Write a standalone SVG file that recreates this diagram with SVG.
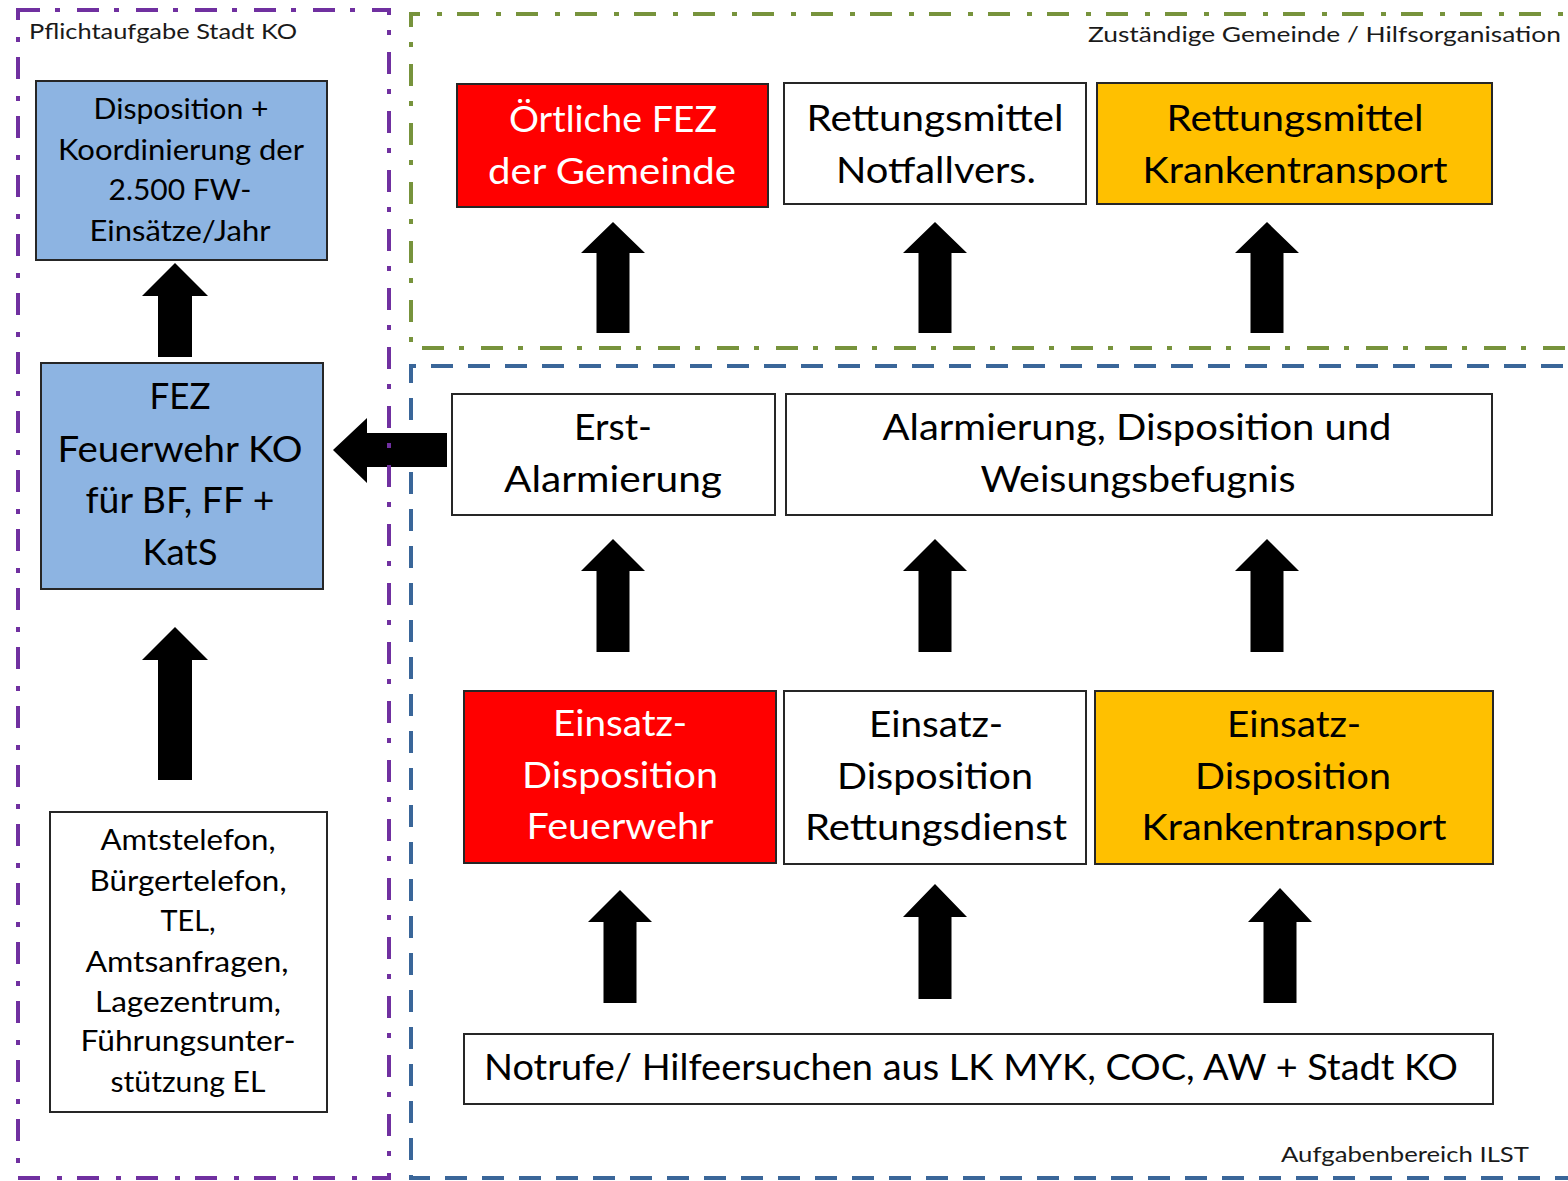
<svg xmlns="http://www.w3.org/2000/svg" width="1568" height="1181" viewBox="0 0 1568 1181">
<style>
.bg{fill:#ffffff}
.box{stroke:#262626;stroke-width:2}
.blue{fill:#8DB4E2}
.red{fill:#FF0000}
.orange{fill:#FFC000}
.white{fill:#FFFFFF}
text{font-family:Lato,"Open Sans","Liberation Sans",sans-serif;fill:#000;text-anchor:middle}
.s{font-size:21px;fill:#1a1a1a;text-anchor:start}
.m{font-size:28px}
.l{font-size:36px}
.w{fill:#FFFFFF}
.zone{fill:none;stroke-width:4}
.purple{stroke:#7030A0;stroke-dasharray:22 15 5 17}
.green{stroke:#77933C;stroke-dasharray:22 15 5 17}
.dblue{stroke:#3A6699;stroke-dasharray:22 15}
.arrow{fill:#000}
</style>
<rect class="bg" x="0" y="0" width="1568" height="1181"/>

<g id="zone-ilst">
<path class="zone dblue" d="M1600 366 H411 V1178 H1600"/>
<text class="s" x="1281" y="1162" textLength="248" lengthAdjust="spacingAndGlyphs">Aufgabenbereich ILST</text>
</g>
<g id="zone-gemeinde">
<path class="zone green" d="M1600 14 H411 V348 H1600"/>
<text class="s" x="1088" y="42" textLength="473" lengthAdjust="spacingAndGlyphs">Zuständige Gemeinde / Hilfsorganisation</text>
</g>

<g id="connectors">
<polygon class="arrow" points="613,222 645,253 629.5,253 629.5,333 596.5,333 596.5,253 581,253"/>
<polygon class="arrow" points="935,222 967,253 951.5,253 951.5,333 918.5,333 918.5,253 903,253"/>
<polygon class="arrow" points="1267,222 1299,253 1283.5,253 1283.5,333 1250.5,333 1250.5,253 1235,253"/>
<polygon class="arrow" points="613,539 645,571 629.5,571 629.5,652 596.5,652 596.5,571 581,571"/>
<polygon class="arrow" points="935,539 967,571 951.5,571 951.5,652 918.5,652 918.5,571 903,571"/>
<polygon class="arrow" points="1267,539 1299,571 1283.5,571 1283.5,652 1250.5,652 1250.5,571 1235,571"/>
<polygon class="arrow" points="620,890 652,922 636.5,922 636.5,1003 603.5,1003 603.5,922 588,922"/>
<polygon class="arrow" points="935,884 967,917 951.5,917 951.5,999 918.5,999 918.5,917 903,917"/>
<polygon class="arrow" points="1280,888 1312,922 1296.5,922 1296.5,1003 1263.5,1003 1263.5,922 1248,922"/>
<polygon class="arrow" points="175,263 208,296 192,296 192,357 158,357 158,296 142,296"/>
<polygon class="arrow" points="175,627 208,660 192,660 192,780 158,780 158,660 142,660"/>
<polygon class="arrow" points="333,450 367,418 367,433 447,433 447,467 367,467 367,483"/>
</g>

<g id="zone-stadt">
<rect class="zone purple" x="18" y="10" width="371" height="1168"/>
<text class="s" x="29" y="39" textLength="268" lengthAdjust="spacingAndGlyphs">Pflichtaufgabe Stadt KO</text>
</g>

<g id="node-disposition">
<rect class="box blue" x="36" y="81" width="291" height="179"/>
<text class="m" x="181" y="119" textLength="175" lengthAdjust="spacingAndGlyphs">Disposition +</text>
<text class="m" x="181" y="160" textLength="246" lengthAdjust="spacingAndGlyphs">Koordinierung der</text>
<text class="m" x="180" y="200" textLength="143" lengthAdjust="spacingAndGlyphs">2.500 FW-</text>
<text class="m" x="180" y="241" textLength="181" lengthAdjust="spacingAndGlyphs">Einsätze/Jahr</text>
</g>

<g id="node-fez">
<rect class="box blue" x="41" y="363" width="282" height="226"/>
<text class="l" x="180" y="409" textLength="61" lengthAdjust="spacingAndGlyphs">FEZ</text>
<text class="l" x="180" y="462" textLength="245" lengthAdjust="spacingAndGlyphs">Feuerwehr KO</text>
<text class="l" x="180" y="513" textLength="189" lengthAdjust="spacingAndGlyphs">für BF, FF +</text>
<text class="l" x="180" y="565" textLength="75" lengthAdjust="spacingAndGlyphs">KatS</text>
</g>

<g id="node-amt">
<rect class="box white" x="50" y="812" width="277" height="300"/>
<text class="m" x="188" y="850" textLength="175" lengthAdjust="spacingAndGlyphs">Amtstelefon,</text>
<text class="m" x="188" y="891" textLength="197" lengthAdjust="spacingAndGlyphs">Bürgertelefon,</text>
<text class="m" x="188" y="931" textLength="55" lengthAdjust="spacingAndGlyphs">TEL,</text>
<text class="m" x="187" y="972" textLength="203" lengthAdjust="spacingAndGlyphs">Amtsanfragen,</text>
<text class="m" x="188" y="1012" textLength="186" lengthAdjust="spacingAndGlyphs">Lagezentrum,</text>
<text class="m" x="188" y="1051" textLength="215" lengthAdjust="spacingAndGlyphs">Führungsunter-</text>
<text class="m" x="188" y="1092" textLength="155" lengthAdjust="spacingAndGlyphs">stützung EL</text>
</g>

<g id="node-oertliche-fez">
<rect class="box red" x="457" y="84" width="311" height="123"/>
<text class="l w" x="613" y="132" textLength="208" lengthAdjust="spacingAndGlyphs">Örtliche FEZ</text>
<text class="l w" x="612" y="184" textLength="248" lengthAdjust="spacingAndGlyphs">der Gemeinde</text>
</g>

<g id="node-rm-notfall">
<rect class="box white" x="784" y="83" width="302" height="121"/>
<text class="l" x="935" y="131" textLength="257" lengthAdjust="spacingAndGlyphs">Rettungsmittel</text>
<text class="l" x="936" y="183" textLength="200" lengthAdjust="spacingAndGlyphs">Notfallvers.</text>
</g>

<g id="node-rm-kt">
<rect class="box orange" x="1097" y="83" width="395" height="121"/>
<text class="l" x="1295" y="131" textLength="257" lengthAdjust="spacingAndGlyphs">Rettungsmittel</text>
<text class="l" x="1295" y="183" textLength="305" lengthAdjust="spacingAndGlyphs">Krankentransport</text>
</g>

<g id="node-erst">
<rect class="box white" x="452" y="394" width="323" height="121"/>
<text class="l" x="613" y="440" textLength="78" lengthAdjust="spacingAndGlyphs">Erst-</text>
<text class="l" x="613" y="492" textLength="218" lengthAdjust="spacingAndGlyphs">Alarmierung</text>
</g>

<g id="node-alarmierung">
<rect class="box white" x="786" y="394" width="706" height="121"/>
<text class="l" x="1137" y="440" textLength="509" lengthAdjust="spacingAndGlyphs">Alarmierung, Disposition und</text>
<text class="l" x="1138" y="492" textLength="315" lengthAdjust="spacingAndGlyphs">Weisungsbefugnis</text>
</g>

<g id="node-ed-fw">
<rect class="box red" x="464" y="691" width="312" height="172"/>
<text class="l w" x="620" y="736" textLength="134" lengthAdjust="spacingAndGlyphs">Einsatz-</text>
<text class="l w" x="620" y="788" textLength="196" lengthAdjust="spacingAndGlyphs">Disposition</text>
<text class="l w" x="620" y="839" textLength="187" lengthAdjust="spacingAndGlyphs">Feuerwehr</text>
</g>

<g id="node-ed-rd">
<rect class="box white" x="784" y="691" width="302" height="173"/>
<text class="l" x="936" y="737" textLength="134" lengthAdjust="spacingAndGlyphs">Einsatz-</text>
<text class="l" x="935" y="789" textLength="196" lengthAdjust="spacingAndGlyphs">Disposition</text>
<text class="l" x="936" y="840" textLength="262" lengthAdjust="spacingAndGlyphs">Rettungsdienst</text>
</g>

<g id="node-ed-kt">
<rect class="box orange" x="1095" y="691" width="398" height="173"/>
<text class="l" x="1294" y="737" textLength="134" lengthAdjust="spacingAndGlyphs">Einsatz-</text>
<text class="l" x="1293" y="789" textLength="196" lengthAdjust="spacingAndGlyphs">Disposition</text>
<text class="l" x="1294" y="840" textLength="305" lengthAdjust="spacingAndGlyphs">Krankentransport</text>
</g>

<g id="node-notrufe">
<rect class="box white" x="464" y="1034" width="1029" height="70"/>
<text class="l" x="971" y="1080" textLength="974" lengthAdjust="spacingAndGlyphs">Notrufe/ Hilfeersuchen aus LK MYK, COC, AW + Stadt KO</text>
</g>
</svg>
